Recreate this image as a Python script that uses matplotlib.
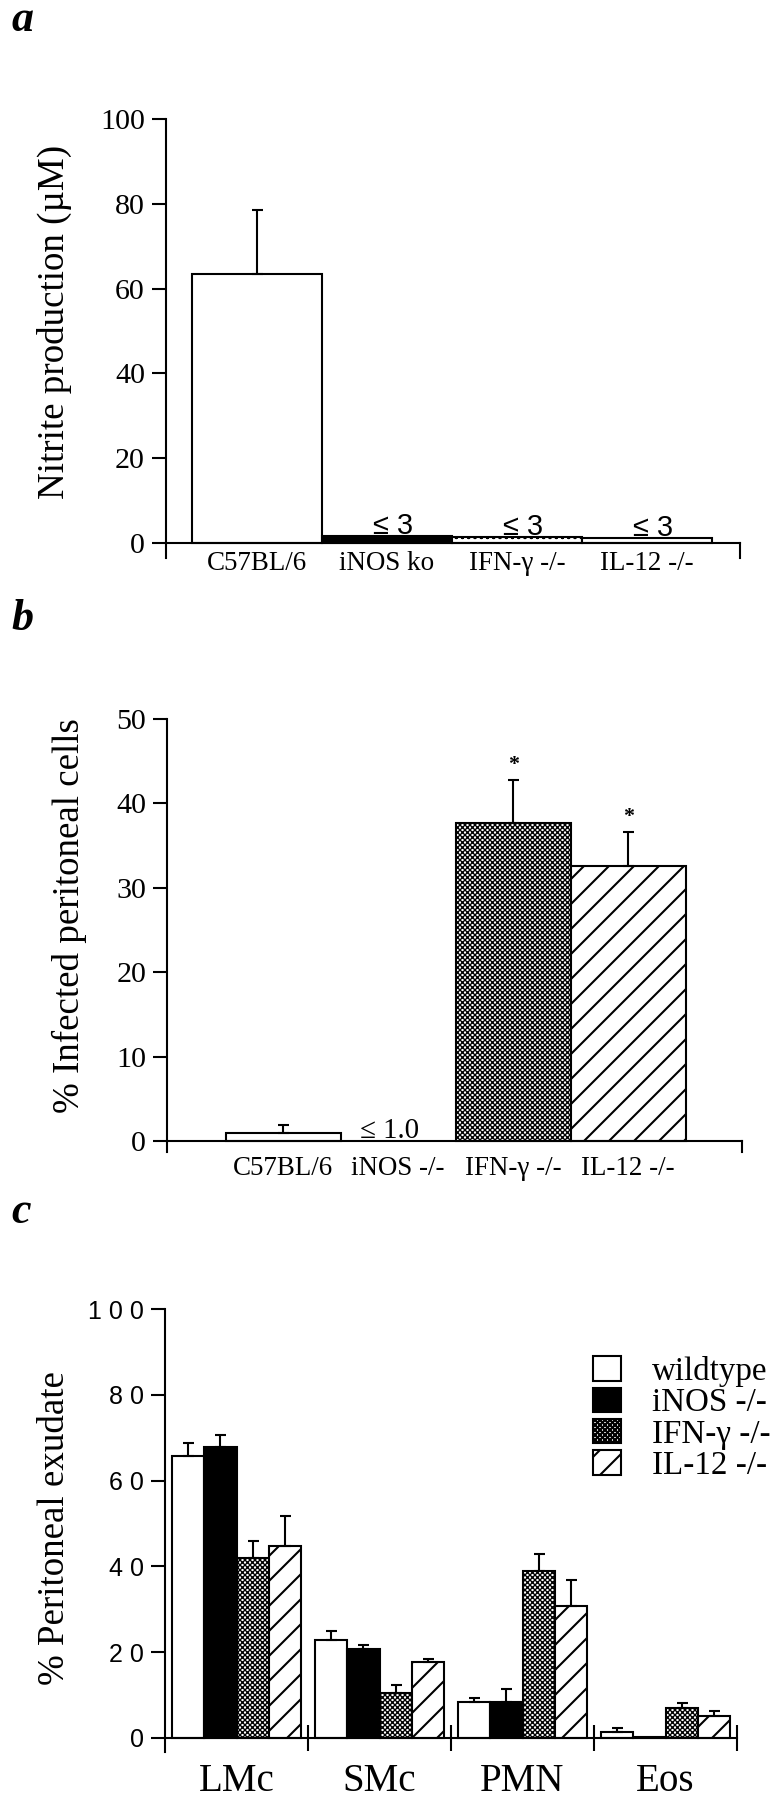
import matplotlib
matplotlib.use('Agg')
import matplotlib.pyplot as plt
import numpy as np

DPI = 150
W, H = 781, 1800

# ---- panel a: nitrite production ----
a_groups = ['C57BL/6', 'iNOS ko', 'IFN-γ -/-', 'IL-12 -/-']
a_values = [63.5, 1.6, 1.4, 1.2]
a_errors = [15.0, np.nan, np.nan, np.nan]
a_notes = ['', '≤ 3', '≤ 3', '≤ 3']
a_yticks = [0, 20, 40, 60, 80, 100]

# ---- panel b: infected peritoneal cells ----
b_groups = ['C57BL/6', 'iNOS -/-', 'IFN-γ -/-', 'IL-12 -/-']
b_values = [1.0, np.nan, 37.7, 32.6]
b_errors = [0.9, np.nan, 5.1, 4.0]
b_notes = ['', '≤ 1.0', '', '']
b_stars = ['', '', '*', '*']
b_yticks = [0, 10, 20, 30, 40, 50]

# ---- panel c: peritoneal exudate ----
c_cells = ['LMc', 'SMc', 'PMN', 'Eos']
c_strains = ['wildtype', 'iNOS -/-', 'IFN-γ -/-', 'IL-12 -/-']
c_wildtype = [65.8, 22.8, 8.4, 1.3]
c_wildtype_err = [2.9, 2.1, 1.0, 0.9]
c_inos = [67.8, 20.7, 8.3, 0.2]
c_inos_err = [2.9, 0.9, 3.0, np.nan]
c_ifng = [42.0, 10.5, 38.9, 7.0]
c_ifng_err = [3.9, 1.9, 3.9, 1.2]
c_il12 = [44.8, 17.6, 30.8, 5.1]
c_il12_err = [7.0, 0.9, 6.0, 1.1]
c_yticks = [0, 20, 40, 60, 80, 100]
c_ytick_labels = ['0', '2 0', '4 0', '6 0', '8 0', '1 0 0']


def pt(px):
    # pixel size -> points at the output dpi
    return px * 72 / DPI


plt.rcParams['font.family'] = 'Liberation Serif'
plt.rcParams['hatch.color'] = 'black'
plt.rcParams['hatch.linewidth'] = 1.0

CROSS = 'x' * 10
# fill styles per strain: white, black, crosshatch, diagonal
STYLES = [
    dict(facecolor='white', hatch=None),
    dict(facecolor='black', hatch=None),
    dict(facecolor='white', hatch=CROSS),
    dict(facecolor='white', hatch='//'),
]

fig = plt.figure(figsize=(W / DPI, H / DPI), dpi=DPI)


def axes_px(left, top, right, bottom):
    return fig.add_axes([left / W, 1 - bottom / H, (right - left) / W, (bottom - top) / H])


def draw_bars(ax, x, values, width, style):
    bars = ax.bar(x, values, width, color=style['facecolor'], edgecolor='black',
                  linewidth=1.0, hatch=style['hatch'], zorder=2)
    if style['hatch'] == CROSS:
        for b in bars:
            if hasattr(b, 'set_hatch_linewidth'):
                b.set_hatch_linewidth(0.65)
    return bars


def draw_errors(ax, x, values, errors):
    x = np.asarray(x, float)
    v = np.asarray(values, float)
    e = np.asarray(errors, float)
    ok = np.isfinite(e) & np.isfinite(v)
    ax.errorbar(x[ok], v[ok], yerr=[np.zeros(ok.sum()), e[ok]], fmt='none',
                ecolor='black', elinewidth=1.0, capsize=pt(5.5), capthick=1.0, zorder=3)


def style_axes(ax, ybottom, ytop, right_tick=True):
    ax.set_ylim(ybottom, ytop)
    ax.spines['top'].set_visible(False)
    ax.spines['bottom'].set_position(('data', 0))
    for s in ax.spines.values():
        s.set_linewidth(1.0)
    if right_tick:
        ax.spines['right'].set_bounds(ybottom, 0)
    else:
        ax.spines['right'].set_visible(False)
    ax.yaxis.set_ticks_position('left')
    ax.xaxis.set_ticks_position('bottom')
    ax.tick_params(axis='y', direction='out', length=pt(14), width=1.0,
                   pad=pt(7), labelsize=pt(30))


# ---------------- panel a ----------------
ax_a = axes_px(166, 119, 740, 558)
xa = np.arange(len(a_groups))
a_styles = [STYLES[0], STYLES[1], dict(facecolor='white', hatch='oooo'), STYLES[0]]
for i in range(len(a_groups)):
    bars = draw_bars(ax_a, [xa[i]], [a_values[i]], 1.0, a_styles[i])
    if i == 2 and hasattr(bars[0], 'set_hatch_linewidth'):
        bars[0].set_hatch_linewidth(0.4)
draw_errors(ax_a, xa, a_values, a_errors)
ax_a.set_xlim(-0.7, 3.715)
style_axes(ax_a, -3.5, 100)
ax_a.set_yticks(a_yticks)
ax_a.set_xticks(xa)
ax_a.set_xticklabels(a_groups)
ax_a.tick_params(axis='x', length=0, pad=pt(8), labelsize=pt(27))
for i, note in enumerate(a_notes):
    if note:
        ax_a.text(xa[i] + 0.05, a_values[i] + 0.6, note, ha='center', va='baseline',
                  family='Liberation Sans', fontsize=pt(29))

# ---------------- panel b ----------------
ax_b = axes_px(167, 719, 742, 1152)
xb = np.arange(len(b_groups))
b_styles = [STYLES[0], STYLES[1], STYLES[2], STYLES[3]]
for i in range(len(b_groups)):
    draw_bars(ax_b, [xb[i]], [b_values[i]], 1.0, b_styles[i])
draw_errors(ax_b, xb, b_values, b_errors)
ax_b.set_xlim(-1.01, 3.99)
style_axes(ax_b, -1.3, 50)
ax_b.set_yticks(b_yticks)
ax_b.set_xticks(xb)
ax_b.set_xticklabels(b_groups)
ax_b.tick_params(axis='x', length=0, pad=pt(15), labelsize=pt(27))
for i, note in enumerate(b_notes):
    if note:
        ax_b.text(xb[i] - 0.33, 0.3, note, ha='left', va='baseline', fontsize=pt(29))
for i, star in enumerate(b_stars):
    if star:
        ax_b.text(xb[i], b_values[i] + b_errors[i] + 1.2, star, ha='center',
                  va='baseline', fontsize=pt(22), fontweight='bold')

# ---------------- panel c ----------------
ax_c = axes_px(165, 1309, 737, 1752)
xc = np.arange(len(c_cells))
bw = 0.227
c_series = [(c_wildtype, c_wildtype_err), (c_inos, c_inos_err),
            (c_ifng, c_ifng_err), (c_il12, c_il12_err)]
handles = []
for k, (vals, errs) in enumerate(c_series):
    xs = xc + (k - 1.5) * bw
    handles.append(draw_bars(ax_c, xs, vals, bw, STYLES[k]))
    draw_errors(ax_c, xs, vals, errs)
ax_c.set_xlim(-0.5, 3.5)
style_axes(ax_c, -3.3, 100, right_tick=False)
ax_c.set_yticks(c_yticks)
ax_c.set_yticklabels(c_ytick_labels, family='Liberation Sans')
ax_c.tick_params(axis='y', labelsize=pt(25))
# group separators, crossing the axis
ax_c.set_xticks(list(xc[1:] - 0.5) + [xc[-1] + 0.5])
ax_c.set_xticklabels([''] * len(c_cells))
ax_c.tick_params(axis='x', which='major', direction='inout', length=pt(26), width=1.0)
ax_c.set_xticks(xc, minor=True)
ax_c.set_xticklabels(c_cells, minor=True)
ax_c.tick_params(axis='x', which='minor', length=0, pad=pt(25), labelsize=pt(39))

ax_c.legend(handles=handles, labels=c_strains, loc='upper left',
            bbox_to_anchor=(593 / W, 1 - 1356 / H), bbox_transform=fig.transFigure,
            frameon=False, fontsize=pt(33), handlelength=28 / 33, handleheight=25 / 33,
            handletextpad=0.95, labelspacing=0.02, borderpad=0, borderaxespad=0)

# ---------------- panel letters and y labels ----------------
for letter, base in [('a', 31), ('b', 630), ('c', 1223)]:
    fig.text(11 / W, 1 - base / H, letter, ha='left', va='baseline',
             fontsize=pt(44), fontweight='bold', fontstyle='italic')

for label, cx, cy in [('Nitrite production (µM)', 54, 322),
                      ('% Infected peritoneal cells', 69, 916),
                      ('% Peritoneal exudate', 55, 1528)]:
    fig.text(cx / W, 1 - cy / H, label, rotation=90, ha='center', va='center',
             fontsize=pt(37))

fig.savefig('out.png', dpi=DPI)
